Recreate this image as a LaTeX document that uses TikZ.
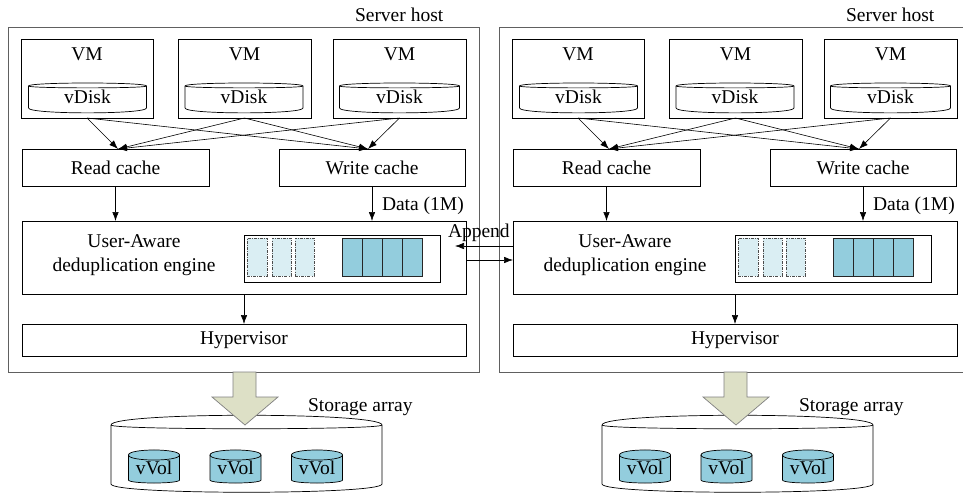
\documentclass[tikz,border=0pt]{standalone}
\usepackage{fontspec}
\setmainfont{Liberation Serif}
\usetikzlibrary{arrows.meta,backgrounds}

\definecolor{volfill}{HTML}{93CDDD}
\definecolor{ghostfill}{HTML}{DAEEF3}
\definecolor{blockfill}{HTML}{DDE0C6}
\definecolor{blockline}{HTML}{808080}
\definecolor{hostline}{HTML}{606060}

% Drum outline behind a (borderless) node: back rim, front rim, bottom rim
% #1 node, #2 fill, #3 back-rim bulge, #4 front-rim bulge, #5 bottom bulge
\newcommand\drumshape[5]{%
  \begin{scope}[on background layer]
    \draw[line width=0.7pt, fill=#2] (#1.north west) .. controls +(0,-#3) and +(0,-#3) .. (#1.north east)
      -- (#1.south east) .. controls +(0,#5) and +(0,#5) .. (#1.south west) -- cycle;
    \draw[line width=0.7pt] (#1.north west) .. controls +(0,#4) and +(0,#4) .. (#1.north east);
  \end{scope}}

\begin{document}
\begin{tikzpicture}[x=1pt, y=-1pt,
  every node/.style={font=\fontsize{19.5}{24}\selectfont},
  box/.style={draw, rectangle, line width=0.7pt, inner sep=0pt, outer sep=0pt},
  hostbox/.style={draw=hostline, rectangle, line width=0.8pt, inner sep=0pt, outer sep=0pt},
  drum/.style={rectangle, inner sep=0pt, outer sep=0pt},
  ghost/.style={draw=black!70, fill=ghostfill, line width=0.6pt,
    dash pattern=on 3pt off 1.2pt on 0.8pt off 1.2pt, rectangle, inner sep=0pt, outer sep=0pt},
  chunk/.style={draw=black!85, fill=volfill, line width=0.7pt, rectangle, inner sep=0pt, outer sep=0pt},
  flow/.style={line width=0.6pt, -{Latex[length=9pt,width=6.5pt]}},
  bigarrow/.style={draw=blockline, fill=blockfill, line width=0.7pt, line join=miter},
  plain/.style={inner sep=0pt, outer sep=0pt}]

\useasboundingbox (0,0) rectangle (963,493);
\clip (0,0) rectangle (963,493);

\foreach \o/\p in {0/L,491/R}{
  \begin{scope}[shift={(\o,0)}]
    % host frame and its title
    \node[hostbox, minimum width=471pt, minimum height=345pt] (\p host) at (243.5,199.5) {};
    \node[plain, anchor=base west] (\p title) at (355,21) {Server host};

    % virtual machines with their disks
    \node[box, minimum width=132pt, minimum height=79pt] (\p vm1) at (87,78.5) {};
    \node[box, minimum width=133pt, minimum height=79pt] (\p vm2) at (244.5,78.5) {};
    \node[box, minimum width=133pt, minimum height=79pt] (\p vm3) at (399.5,78.5) {};
    \node[plain, anchor=base] (\p vmt1) at (87,60) {VM};
    \node[plain, anchor=base] (\p vmt2) at (244.5,60) {VM};
    \node[plain, anchor=base] (\p vmt3) at (399.5,60) {VM};
    \node[drum, minimum width=118pt, minimum height=22pt] (\p vd1) at (87.5,97) {vDisk};
    \node[drum, minimum width=118pt, minimum height=22pt] (\p vd2) at (244,97) {vDisk};
    \node[drum, minimum width=120pt, minimum height=22pt] (\p vd3) at (399.5,97) {vDisk};
    \drumshape{\p vd1}{white}{4}{2.5}{6.5}
    \drumshape{\p vd2}{white}{4}{2.5}{6.5}
    \drumshape{\p vd3}{white}{4}{2.5}{6.5}

    % caches
    \node[box, minimum width=187pt, minimum height=37pt] (\p rc) at (115.5,167.5) {Read cache};
    \node[box, minimum width=186pt, minimum height=37pt] (\p wc) at (372,167.5) {Write cache};

    % deduplication engine with its chunk buffer
    \node[box, minimum width=444pt, minimum height=73pt] (\p eng) at (244,257.5) {};
    \node[plain, align=center] (\p engt) at (134,255) {User-Aware\\deduplication engine};
    \node[box, minimum width=196pt, minimum height=47pt] (\p buf) at (342,258.5) {};
    \node[ghost, minimum width=20pt, minimum height=38pt] (\p g1) at (257,257) {};
    \node[ghost, minimum width=19pt, minimum height=38pt] (\p g2) at (281.5,257) {};
    \node[ghost, minimum width=19pt, minimum height=38pt] (\p g3) at (304.5,257) {};
    \node[chunk, minimum width=20pt, minimum height=38pt] (\p c1) at (352,257) {};
    \node[chunk, minimum width=20pt, minimum height=38pt] (\p c2) at (372,257) {};
    \node[chunk, minimum width=20pt, minimum height=38pt] (\p c3) at (392,257) {};
    \node[chunk, minimum width=20pt, minimum height=38pt] (\p c4) at (412,257) {};

    % hypervisor
    \node[box, minimum width=444pt, minimum height=32pt] (\p hyp) at (244,340) {Hypervisor};

    % I/O paths from the disks into the caches
    \foreach \v in {1,2,3}{
      \draw[flow] (\p vm\v.south) -- ([xshift=2.5pt]\p rc.north);
      \draw[flow] (\p vm\v.south) -- ([xshift=-4pt]\p wc.north);
    }
    \draw[flow] (\p rc.south) -- (\p rc.south |- \p eng.north);
    \draw[flow] (\p wc.south) -- (\p wc.south |- \p eng.north);
    \node[plain, anchor=base west] (\p data) at (382,210) {Data (1M)};
    \draw[flow] (\p eng.south) -- (\p hyp.north);

    % backing storage array
    \node[drum, minimum width=271pt, minimum height=59pt] (\p sa) at (246.5,454.5) {};
    \drumshape{\p sa}{white}{13}{5}{11}
    \node[drum, minimum width=51pt, minimum height=25pt] (\p vol1) at (154,467.5) {vVol};
    \node[drum, minimum width=51pt, minimum height=25pt] (\p vol2) at (235.5,467.5) {vVol};
    \node[drum, minimum width=51pt, minimum height=25pt] (\p vol3) at (317,467.5) {vVol};
    \drumshape{\p vol1}{volfill}{6.7}{6.7}{4}
    \drumshape{\p vol2}{volfill}{6.7}{6.7}{4}
    \drumshape{\p vol3}{volfill}{6.7}{6.7}{4}
    \node[plain, anchor=base west] (\p sat) at (308,411) {Storage array};

    % block arrow from host down to the array
    \draw[bigarrow] (233,372) -- (256,372) -- (256,397) -- (278,397) -- (245,425)
      -- (212,397) -- (233,397) -- cycle;
  \end{scope}
}

% chunk exchange between the two hosts
\node[plain, anchor=base west] (append) at (448,237) {Append};
\coordinate (appendtip) at (455,246);
\draw[flow] (Reng.west |- appendtip) -- (appendtip);
\draw[flow] ([yshift=-2.5pt]Leng.east) -- ([yshift=-2.5pt]Leng.east -| Reng.west);

\end{tikzpicture}
\end{document}
